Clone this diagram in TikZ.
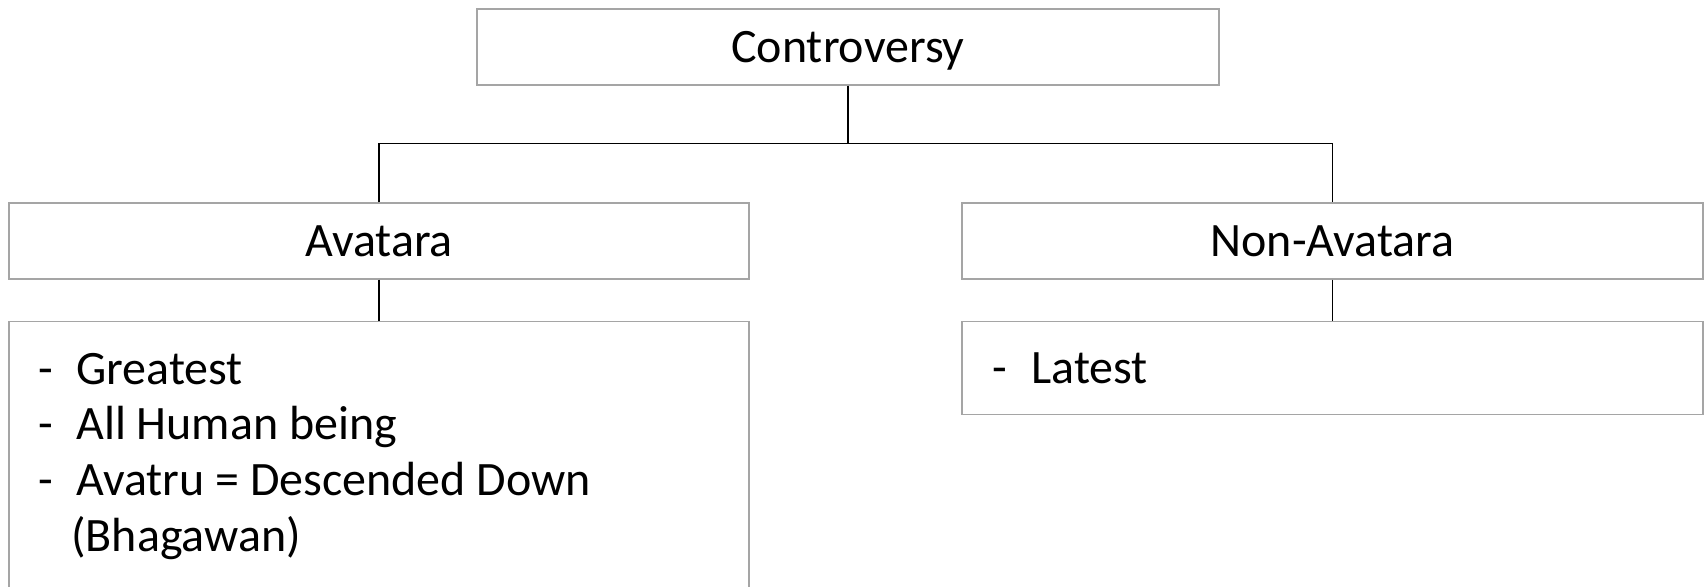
\documentclass[tikz,border=0pt]{standalone}
\usepackage{fontspec}
\setmainfont{Carlito}
\usepackage{xcolor}
\usetikzlibrary{positioning}
\definecolor{boxgray}{RGB}{165,165,165}

\tikzset{
  catbox/.style={draw=boxgray, line width=0.85pt, inner sep=0pt,
    text height=0.64cm, text depth=0pt,
    font=\fontsize{27.3}{32}\selectfont},
  link/.style={draw=black, line width=0.85pt},
  itemtext/.style={anchor=base west, inner sep=0pt,
    font=\fontsize{27.3}{32}\selectfont}
}

\begin{document}
\begin{tikzpicture}[x=0.02cm, y=-0.02cm]
      % Frame (reference size in px)
      \useasboundingbox (0,0) rectangle (1705,587);
      % Top level
      \node[catbox, minimum width=14.84cm, minimum height=1.52cm]
        (controversy) at (848,47) {Controversy};
      % Second level
      \node[catbox, minimum width=14.8cm, minimum height=1.52cm]
        (avatara) at (379,241) {Avatara};
      \node[catbox, minimum width=14.82cm, minimum height=1.52cm]
        (nonavatara) at (1332.5,241) {Non-Avatara};
      % Detail boxes (left one runs past the lower edge)
      \node[catbox, minimum width=14.8cm, minimum height=6cm, anchor=north]
        (avatarlist) at (379,321) {};
      \node[catbox, minimum width=14.82cm, minimum height=1.86cm, anchor=north]
        (nonavlist) at (1332.5,321) {};
      % Connectors
      \coordinate (fork) at (848,143.5);
      \draw[link] (controversy.south) -- (fork);
      \draw[link] (avatara.north) |- (fork) -| (nonavatara.north);
      \draw[link] (avatara.south) -- (avatarlist.north);
      \draw[link] (nonavatara.south) -- (nonavlist.north);
      % List items
      \foreach \ty/\txt [count=\i] in {385/Greatest, 440/All Human being,
          496/Avatru = Descended Down}
      { \node[itemtext] (dash\i) at (38,\ty) {-};
        \node[itemtext] (item\i) at (76,\ty) {\txt}; }
      \node[itemtext] (item4) at (71,552) {(Bhagawan)};
      \node[itemtext] (dash5) at (992,384) {-};
      \node[itemtext] (item5) at (1031,384) {Latest};
    \end{tikzpicture}
\end{document}
